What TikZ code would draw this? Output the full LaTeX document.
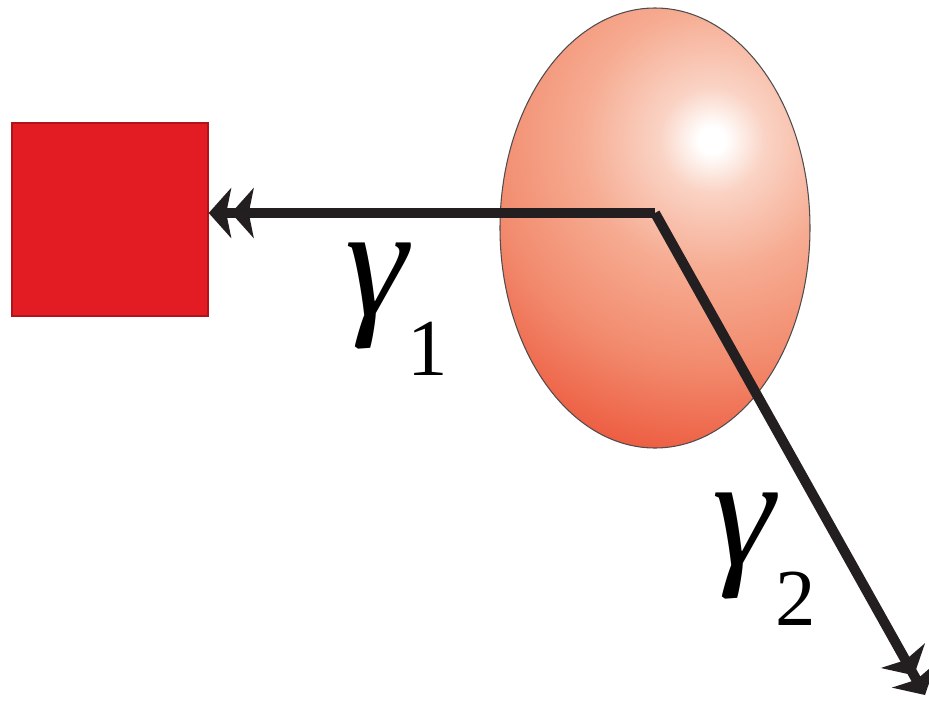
\documentclass[tikz,border=0pt]{standalone}
\usepackage{fontspec}
\setmainfont{Liberation Serif}
\usepackage{xcolor}
\usepackage{tikz}
\usetikzlibrary{positioning, arrows.meta, shapes.geometric}

\definecolor{detred}{HTML}{E31B23}
\definecolor{detedge}{HTML}{B0141A}
\definecolor{eggdeep}{HTML}{E8432A}
\definecolor{eggout}{HTML}{EE6448}
\definecolor{eggmid}{HTML}{F28B6E}
\definecolor{eggsoft}{HTML}{F6AB91}
\definecolor{egglight}{HTML}{FAD3C4}
\definecolor{rayblack}{HTML}{231F20}

\pgfdeclareradialshading{eggshade}{\pgfpoint{0bp}{0bp}}{%
    color(0bp)=(white);
    color(1bp)=(white);
    color(4bp)=(egglight);
    color(10bp)=(eggsoft);
    color(17bp)=(eggmid);
    color(23bp)=(eggout);
    color(28bp)=(eggdeep);
    color(50bp)=(eggdeep)}

\newcommand{\photon}[1]{\textit{γ}\kern-0.02em\raisebox{-0.38em}{\fontsize{46}{50}\selectfont #1}}

\begin{document}
\begin{tikzpicture}[
    detector/.style={rectangle, draw=detedge, line width=0.8pt, fill=detred,
                     minimum width=3.92cm, minimum height=3.86cm, inner sep=0pt},
    target/.style={ellipse, draw=rayblack!80, line width=0.6pt,
                   minimum width=6.2cm, minimum height=8.8cm, inner sep=0pt,
                   path picture={\shade[shading=eggshade]
                       ([shift={(1.14,1.76)}]path picture bounding box.center) circle (6.6cm);}},
    ray/.style={rayblack, line width=0.2cm,
                -{Stealth[length=4.5mm,width=10mm,inset=1mm]Stealth[length=4.5mm,width=10mm,inset=1mm]}},
    lbl/.style={font=\fontsize{90}{100}\selectfont, inner sep=0pt, anchor=base west},
]
    \useasboundingbox (0,0) rectangle (18.58,-14.08);

    % Detector
    \node[detector] (det) at (2.2, -4.39) {};

    % Target
    \node[target] (egg) at (13.1, -4.56) {};

    % Vertex and exit point
    \coordinate (vertex) at (13.1, -4.26);
    \coordinate (exit) at (18.5, -13.9);

    % Photons
    \draw[ray] (vertex) -- (vertex -| det.east);
    \draw[ray] (vertex) -- (exit);

    % Labels
    \node[lbl] (g1) at (6.9, -6.3) {\photon{1}};
    \node[lbl] (g2) at (14.25, -11.3) {\photon{2}};
\end{tikzpicture}
\end{document}
